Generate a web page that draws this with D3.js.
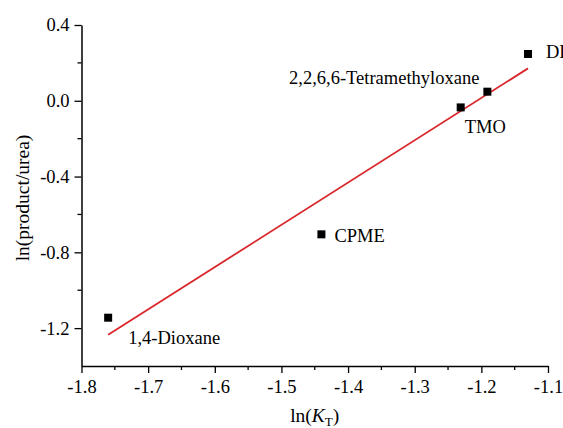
<!DOCTYPE html>
<html>
<head>
<meta charset="utf-8">
<script src="https://cdn.jsdelivr.net/npm/d3@7"></script>
<style>
  html, body { margin: 0; padding: 0; background: #fff; }
  svg { display: block; }
  text { font-family: "Liberation Serif", "Times New Roman", serif; fill: #000; }
</style>
</head>
<body>
<svg id="chart" width="563" height="428"></svg>
<script>
// ---- data ----
const solvents = ["1,4-Dioxane", "CPME", "TMO", "2,2,6,6-Tetramethyloxane", "DE"];
const lnKT = [-1.760, -1.440, -1.231, -1.191, -1.130];
const lnProductUrea = [-1.145, -0.705, -0.035, 0.048, 0.247];
// fitted line endpoints as drawn in the reference
const fitX = [-1.760, -1.130];
const fitY = [-1.235, 0.171];
const xTicks = [-1.8, -1.7, -1.6, -1.5, -1.4, -1.3, -1.2, -1.1];
const xMinorTicks = [-1.75, -1.65, -1.55, -1.45, -1.35, -1.25, -1.15];
const yTicks = [-1.2, -0.8, -0.4, 0.0, 0.4];
const yMinorTicks = [-1.0, -0.6, -0.2, 0.2];

// ---- layout (kept apart from data) ----
const labelAnchor = ["start", "start", "start", "end", "start"];
const labelDx = [20, 13, 4, -8, 18];
const labelDy = [26, 8, 26, -8, 4];

const svg = d3.select("#chart");
const x = d3.scaleLinear().domain([-1.8, -1.1]).range([81.5, 548]);
const y = d3.scaleLinear().domain([-1.4, 0.4]).range([366, 25]);

const fmt = d => d3.format(".1f")(d).replace("\u2212", "-");

// axes
const xAxis = d3.axisBottom(x).tickValues(xTicks).tickFormat(fmt).tickSize(7).tickSizeOuter(0).tickPadding(7);
const yAxis = d3.axisLeft(y).tickValues(yTicks).tickFormat(fmt).tickSize(7).tickSizeOuter(0).tickPadding(5);

const gx = svg.append("g").attr("transform", `translate(0,${y.range()[0]})`).call(xAxis);
const gy = svg.append("g").attr("transform", `translate(${x.range()[0]},0)`).call(yAxis);

[gx, gy].forEach(g => {
  g.select(".domain").attr("stroke", "#000").attr("stroke-width", 1.5);
  g.selectAll(".tick line").attr("stroke", "#000").attr("stroke-width", 1.3);
  g.selectAll(".tick text").style("font-size", "18.5px").style("font-family", '"Liberation Serif", serif').attr("fill", "#000");
});

// minor ticks
svg.append("g").selectAll("line").data(xMinorTicks).join("line")
  .attr("x1", d => x(d)).attr("x2", d => x(d))
  .attr("y1", y.range()[0]).attr("y2", y.range()[0] + 4)
  .attr("stroke", "#000").attr("stroke-width", 1.3);
svg.append("g").selectAll("line").data(yMinorTicks).join("line")
  .attr("y1", d => y(d)).attr("y2", d => y(d))
  .attr("x1", x.range()[0]).attr("x2", x.range()[0] - 4)
  .attr("stroke", "#000").attr("stroke-width", 1.3);

// fit line
svg.append("path")
  .datum(d3.zip(fitX, fitY))
  .attr("d", d3.line().x(d => x(d[0])).y(d => y(d[1])))
  .attr("fill", "none").attr("stroke", "#d9262b").attr("stroke-width", 1.8);

// points
const pts = solvents.map((s, i) => ({ s, x: lnKT[i], y: lnProductUrea[i], i }));
svg.append("g").selectAll("rect").data(pts).join("rect")
  .attr("x", d => x(d.x) - 4).attr("y", d => y(d.y) - 4)
  .attr("width", 8).attr("height", 8).attr("fill", "#000");

// point labels
svg.append("g").selectAll("text").data(pts).join("text")
  .attr("x", d => x(d.x) + labelDx[d.i])
  .attr("y", d => y(d.y) + labelDy[d.i])
  .attr("text-anchor", d => labelAnchor[d.i])
  .style("font-size", "18.5px")
  .text(d => d.s);

// axis titles
const xt = svg.append("text")
  .attr("x", (x.range()[0] + x.range()[1]) / 2)
  .attr("y", 422)
  .attr("text-anchor", "middle")
  .style("font-size", "19.5px");
xt.append("tspan").text("ln(");
xt.append("tspan").style("font-style", "italic").text("K");
xt.append("tspan").attr("dy", 4).style("font-size", "13px").text("T");
xt.append("tspan").attr("dy", -4).text(")");

svg.append("text")
  .attr("transform", `translate(29,198) rotate(-90)`)
  .attr("text-anchor", "middle")
  .style("font-size", "19.5px")
  .text("ln(product/urea)");
</script>
</body>
</html>
